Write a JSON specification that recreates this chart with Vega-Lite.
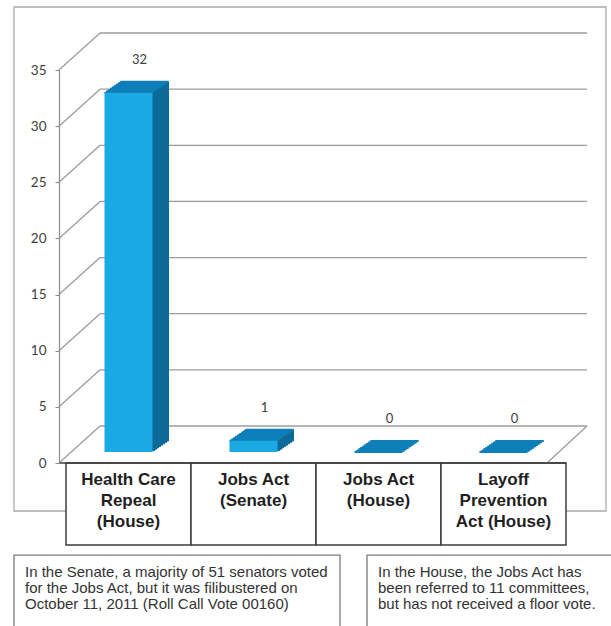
{
  "$schema": "https://vega.github.io/schema/vega-lite/v6.json",
  "width": 547,
  "height": 456,
  "autosize": {"type": "none"},
  "padding": {"left": 59, "top": 7, "right": 5, "bottom": 163},
  "background": "white",
  "config": {"view": {"stroke": null}, "font": "Liberation Sans"},
  "datasets": {
    "bills": [
      {"category": "Health Care Repeal (House)", "votes": 32},
      {"category": "Jobs Act (Senate)", "votes": 1},
      {"category": "Jobs Act (House)", "votes": 0},
      {"category": "Layoff Prevention Act (House)", "votes": 0}
    ],
    "levels": [{"v": 0}, {"v": 5}, {"v": 10}, {"v": 15}, {"v": 20}, {"v": 25}, {"v": 30}, {"v": 35}],
    "senateNote": [{"note": "In the Senate, a majority of 51 senators voted\nfor the Jobs Act, but it was filibustered on\nOctober 11, 2011  (Roll Call Vote 00160)"}],
    "houseNote": [{"note": "In the House, the Jobs Act has\nbeen referred to 11 committees,\nbut has not received a floor vote."}]
  },
  "layer": [
    {
      "data": {"name": "senateNote"},
      "mark": {"type": "rect", "fill": "white", "stroke": "#ababab", "strokeWidth": 1.3, "xOffset": -52, "x2Offset": 40},
      "encoding": {
        "x": {
          "datum": "Health Care Repeal (House)", "type": "nominal", "bandPosition": 0,
          "scale": {"domain": ["Health Care Repeal (House)", "Jobs Act (Senate)", "Jobs Act (House)", "Layoff Prevention Act (House)"], "range": [7, 507], "paddingInner": 0, "paddingOuter": 0}
        },
        "x2": {"datum": "Layoff Prevention Act (House)", "bandPosition": 1},
        "y": {
          "datum": 40.61, "type": "quantitative",
          "scale": {"domain": [0, 35], "range": [456, 63], "nice": false, "zero": false}
        },
        "y2": {"datum": -4.275}
      }
    },
    {
      "data": {"name": "bills"},
      "mark": {"type": "bar", "width": {"band": 1}, "fill": "white", "stroke": "#3c3c3c", "strokeWidth": 1.5},
      "encoding": {
        "x": {"field": "category", "type": "nominal"},
        "y": {"datum": 0, "type": "quantitative"},
        "y2": {"datum": -7.3}
      }
    },
    {
      "data": {"name": "levels"},
      "mark": {"type": "rule", "color": "#9d9d9d", "strokeWidth": 1.3, "xOffset": 34, "x2Offset": 21, "yOffset": -37},
      "encoding": {
        "x": {"datum": "Health Care Repeal (House)", "type": "nominal", "bandPosition": 0},
        "x2": {"datum": "Layoff Prevention Act (House)", "bandPosition": 1},
        "y": {"field": "v", "type": "quantitative"}
      }
    },
    {
      "data": {"name": "levels"},
      "mark": {"type": "rule", "color": "#9d9d9d", "strokeWidth": 1.3, "xOffset": -7, "x2Offset": 34, "y2Offset": -37},
      "encoding": {
        "x": {"datum": "Health Care Repeal (House)", "type": "nominal", "bandPosition": 0},
        "x2": {"datum": "Health Care Repeal (House)", "bandPosition": 0},
        "y": {"field": "v", "type": "quantitative"},
        "y2": {"field": "v"}
      }
    },
    {
      "data": {"name": "levels"},
      "transform": [{"filter": "datum.v === 0"}],
      "mark": {"type": "rule", "color": "#9d9d9d", "strokeWidth": 1.3, "xOffset": -19, "x2Offset": 21, "y2Offset": -37},
      "encoding": {
        "x": {"datum": "Layoff Prevention Act (House)", "type": "nominal", "bandPosition": 1},
        "x2": {"datum": "Layoff Prevention Act (House)", "bandPosition": 1},
        "y": {"field": "v", "type": "quantitative"},
        "y2": {"field": "v"}
      }
    },
    {
      "data": {"name": "levels"},
      "transform": [{"filter": "datum.v === 0"}],
      "mark": {"type": "rule", "color": "#3c3c3c", "strokeWidth": 1.5, "xOffset": -7, "x2Offset": 0},
      "encoding": {
        "x": {"datum": "Health Care Repeal (House)", "type": "nominal", "bandPosition": 0},
        "x2": {"datum": "Layoff Prevention Act (House)", "bandPosition": 1},
        "y": {"field": "v", "type": "quantitative"}
      }
    },
    {
      "data": {"name": "bills"},
      "encoding": {
        "x": {"field": "category", "type": "nominal"},
        "y": {"field": "votes", "type": "quantitative"},
        "y2": {"datum": 0}
      },
      "layer": [
        {"mark": {"type": "bar", "width": 48, "fill": "#0b6a98", "stroke": "#0b6a98", "strokeWidth": 1, "xOffset": 16, "yOffset": -22, "y2Offset": -22}},
        {"mark": {"type": "bar", "width": 48, "fill": "#0b6a98", "stroke": "#0b6a98", "strokeWidth": 1, "xOffset": 14, "yOffset": -20.625, "y2Offset": -20.625}},
        {"mark": {"type": "bar", "width": 48, "fill": "#0b6a98", "stroke": "#0b6a98", "strokeWidth": 1, "xOffset": 12, "yOffset": -19.25, "y2Offset": -19.25}},
        {"mark": {"type": "bar", "width": 48, "fill": "#0b6a98", "stroke": "#0b6a98", "strokeWidth": 1, "xOffset": 10, "yOffset": -17.875, "y2Offset": -17.875}},
        {"mark": {"type": "bar", "width": 48, "fill": "#0b6a98", "stroke": "#0b6a98", "strokeWidth": 1, "xOffset": 8, "yOffset": -16.5, "y2Offset": -16.5}},
        {"mark": {"type": "bar", "width": 48, "fill": "#0b6a98", "stroke": "#0b6a98", "strokeWidth": 1, "xOffset": 6, "yOffset": -15.125, "y2Offset": -15.125}},
        {"mark": {"type": "bar", "width": 48, "fill": "#0b6a98", "stroke": "#0b6a98", "strokeWidth": 1, "xOffset": 4, "yOffset": -13.75, "y2Offset": -13.75}},
        {"mark": {"type": "bar", "width": 48, "fill": "#0b6a98", "stroke": "#0b6a98", "strokeWidth": 1, "xOffset": 2, "yOffset": -12.375, "y2Offset": -12.375}}
      ]
    },
    {
      "data": {"name": "bills"},
      "encoding": {
        "x": {"field": "category", "type": "nominal"},
        "y": {"field": "votes", "type": "quantitative"},
        "y2": {"field": "votes"}
      },
      "layer": [
        {"mark": {"type": "bar", "width": 48, "fill": "#0e7fb8", "stroke": "#0e7fb8", "strokeWidth": 2, "xOffset": 16, "yOffset": -22, "y2Offset": -22}},
        {"mark": {"type": "bar", "width": 48, "fill": "#0e7fb8", "stroke": "#0e7fb8", "strokeWidth": 2, "xOffset": 14, "yOffset": -20.625, "y2Offset": -20.625}},
        {"mark": {"type": "bar", "width": 48, "fill": "#0e7fb8", "stroke": "#0e7fb8", "strokeWidth": 2, "xOffset": 12, "yOffset": -19.25, "y2Offset": -19.25}},
        {"mark": {"type": "bar", "width": 48, "fill": "#0e7fb8", "stroke": "#0e7fb8", "strokeWidth": 2, "xOffset": 10, "yOffset": -17.875, "y2Offset": -17.875}},
        {"mark": {"type": "bar", "width": 48, "fill": "#0e7fb8", "stroke": "#0e7fb8", "strokeWidth": 2, "xOffset": 8, "yOffset": -16.5, "y2Offset": -16.5}},
        {"mark": {"type": "bar", "width": 48, "fill": "#0e7fb8", "stroke": "#0e7fb8", "strokeWidth": 2, "xOffset": 6, "yOffset": -15.125, "y2Offset": -15.125}},
        {"mark": {"type": "bar", "width": 48, "fill": "#0e7fb8", "stroke": "#0e7fb8", "strokeWidth": 2, "xOffset": 4, "yOffset": -13.75, "y2Offset": -13.75}},
        {"mark": {"type": "bar", "width": 48, "fill": "#0e7fb8", "stroke": "#0e7fb8", "strokeWidth": 2, "xOffset": 2, "yOffset": -12.375, "y2Offset": -12.375}},
        {"mark": {"type": "bar", "width": 48, "fill": "#0e7fb8", "stroke": "#0e7fb8", "strokeWidth": 2, "xOffset": 0, "yOffset": -11, "y2Offset": -11}}
      ]
    },
    {
      "data": {"name": "bills"},
      "mark": {"type": "bar", "width": 48, "fill": "#1aa9e3", "yOffset": -11, "y2Offset": -11},
      "encoding": {
        "x": {
          "field": "category", "type": "nominal",
          "axis": {
            "title": null, "orient": "bottom", "domain": false, "ticks": false, "tickSize": 0, "bandPosition": 0.5,
            "labelPadding": 8, "labelBaseline": "top", "labelAlign": "center", "labelAngle": 0, "labelFont": "Liberation Sans", "labelFontSize": 17,
            "labelFontWeight": "bold", "labelColor": "#1f1f1f", "labelLineHeight": 21, "labelOverlap": false, "labelLimit": 0, "zindex": 2,
            "labelExpr": "datum.value === 'Health Care Repeal (House)' ? ['Health Care', 'Repeal', '(House)'] : datum.value === 'Layoff Prevention Act (House)' ? ['Layoff', 'Prevention', 'Act (House)'] : split(replace(datum.value, ' (', '|('), '|')"
          }
        },
        "y": {
          "field": "votes", "type": "quantitative",
          "axis": {
            "title": null, "values": [0, 5, 10, 15, 20, 25, 30, 35], "grid": false, "zindex": 2,
            "domainColor": "#8c8c8c", "domainWidth": 1.2, "tickColor": "#8c8c8c", "tickSize": 4, "labelPadding": 9,
            "labelFont": "Lato", "labelFontSize": 13.5, "labelColor": "#404040"
          }
        },
        "y2": {"datum": 0}
      }
    },
    {
      "data": {"name": "bills"},
      "mark": {"type": "text", "align": "center", "baseline": "middle", "xOffset": 11, "yOffset": -44, "font": "Lato", "fontSize": 13, "color": "#404040"},
      "encoding": {
        "x": {"field": "category", "type": "nominal"},
        "y": {"field": "votes", "type": "quantitative"},
        "text": {"field": "votes", "type": "quantitative"}
      }
    },
    {
      "data": {"name": "senateNote"},
      "mark": {"type": "rect", "fill": "white", "stroke": "#7a7a7a", "strokeWidth": 1.3, "xOffset": -52, "x2Offset": 24},
      "encoding": {
        "x": {"datum": "Health Care Repeal (House)", "type": "nominal", "bandPosition": 0},
        "x2": {"datum": "Jobs Act (House)", "bandPosition": 0},
        "y": {"datum": -8.2, "type": "quantitative"},
        "y2": {"datum": -16}
      }
    },
    {
      "data": {"name": "senateNote"},
      "mark": {"type": "text", "align": "left", "baseline": "alphabetic", "lineBreak": "\n", "lineHeight": 15.8, "font": "Liberation Sans", "fontSize": 15, "color": "#333333", "xOffset": -41},
      "encoding": {
        "x": {"datum": "Health Care Repeal (House)", "type": "nominal", "bandPosition": 0},
        "y": {"datum": -10.15, "type": "quantitative"},
        "text": {"field": "note", "type": "nominal"}
      }
    },
    {
      "data": {"name": "houseNote"},
      "mark": {"type": "rect", "fill": "white", "stroke": "#7a7a7a", "strokeWidth": 1.3, "xOffset": 51, "x2Offset": 46},
      "encoding": {
        "x": {"datum": "Jobs Act (House)", "type": "nominal", "bandPosition": 0},
        "x2": {"datum": "Layoff Prevention Act (House)", "bandPosition": 1},
        "y": {"datum": -8.2, "type": "quantitative"},
        "y2": {"datum": -16}
      }
    },
    {
      "data": {"name": "houseNote"},
      "mark": {"type": "text", "align": "left", "baseline": "alphabetic", "lineBreak": "\n", "lineHeight": 15.8, "font": "Liberation Sans", "fontSize": 15, "color": "#333333", "xOffset": 62},
      "encoding": {
        "x": {"datum": "Jobs Act (House)", "type": "nominal", "bandPosition": 0},
        "y": {"datum": -10.15, "type": "quantitative"},
        "text": {"field": "note", "type": "nominal"}
      }
    }
  ]
}
